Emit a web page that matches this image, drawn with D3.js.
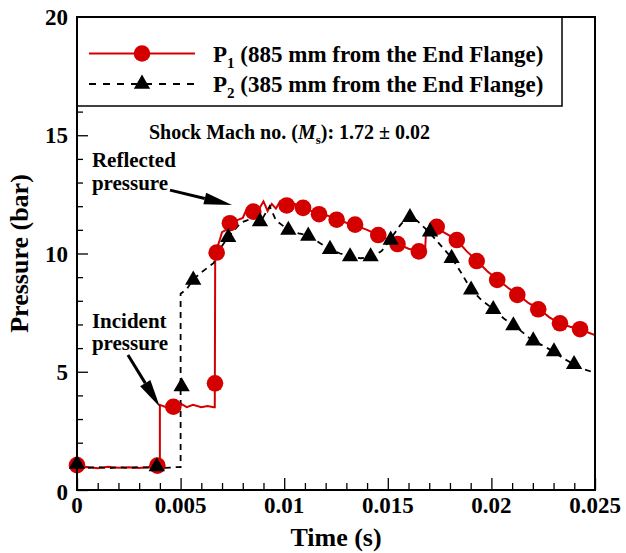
<!DOCTYPE html>
<html>
<head>
<meta charset="utf-8">
<script src="https://cdn.jsdelivr.net/npm/d3@7"></script>
<style>
  html, body { margin: 0; padding: 0; background: #fff; }
  svg { display: block; font-family: "Liberation Serif", "Times New Roman", serif; font-weight: bold; }
</style>
</head>
<body>
<svg id="chart" width="626" height="553"></svg>
<script>
// P1 trace (885 mm from end flange)
const p1Time = [0, 0.0005, 0.001, 0.0015, 0.002, 0.0025, 0.003, 0.0035, 0.0039, 0.004, 0.004,
  0.0043, 0.0047, 0.005, 0.0053, 0.0056, 0.006, 0.0063, 0.0066, 0.00665, 0.00667,
  0.0069, 0.007, 0.0072, 0.0074, 0.0077, 0.008, 0.0082, 0.0085, 0.0088, 0.009, 0.0092,
  0.0094, 0.0096, 0.0098, 0.0101, 0.0105, 0.0109, 0.0113, 0.0117, 0.0121, 0.0125, 0.013,
  0.0134, 0.014, 0.0145, 0.015, 0.0155, 0.016, 0.0165, 0.0168, 0.01685, 0.0172, 0.0175,
  0.018, 0.0183, 0.0188, 0.0193, 0.0198, 0.0203, 0.0208, 0.0213, 0.0218, 0.0223, 0.0228,
  0.0233, 0.0238, 0.0243, 0.0247, 0.025];
const p1Pressure = [0.95, 0.97, 0.92, 0.98, 0.94, 0.96, 0.93, 0.97, 0.95, 0.95, 3.6,
  3.5, 3.55, 3.65, 3.5, 3.6, 3.5, 3.55, 3.5, 3.5, 10.0,
  10.6, 10.9, 11.0, 11.3, 11.4, 11.5, 11.9, 11.8, 11.9, 12.2, 11.8,
  12.1, 11.9, 12.2, 12.05, 12.1, 11.95, 11.8, 11.65, 11.6, 11.45, 11.3,
  11.2, 11.0, 10.8, 10.6, 10.4, 10.2, 10.1, 10.15, 11.0, 11.2, 11.0,
  10.75, 10.6, 10.1, 9.7, 9.25, 8.9, 8.55, 8.25, 7.9, 7.65, 7.3,
  7.05, 6.9, 6.8, 6.65, 6.55];
const p1MarkTime = [0, 0.00388, 0.00465, 0.00666, 0.00674, 0.00738, 0.00851, 0.01012, 0.01091,
  0.01168, 0.01253, 0.01342, 0.01454, 0.01547, 0.0165, 0.01736, 0.01833, 0.01929, 0.02028,
  0.02125, 0.02226, 0.02331, 0.02428];
const p1MarkPressure = [1.05, 1.03, 3.52, 4.51, 10.04, 11.28, 11.77, 12.03, 11.93,
  11.66, 11.43, 11.22, 10.78, 10.4, 10.09, 11.13, 10.57, 9.68, 8.88,
  8.25, 7.64, 7.05, 6.8];

// P2 trace (385 mm from end flange)
const p2Time = [0, 0.0005, 0.001, 0.0015, 0.002, 0.0025, 0.003, 0.0035, 0.0039, 0.0045, 0.0049,
  0.005, 0.005, 0.0053, 0.0056, 0.006, 0.0063, 0.0066, 0.0069, 0.0073, 0.0076, 0.0079,
  0.0082, 0.0086, 0.0089, 0.0093, 0.0096, 0.0099, 0.0102, 0.0107, 0.0112, 0.0117, 0.0122,
  0.0127, 0.0132, 0.0137, 0.0142, 0.0147, 0.0151, 0.0156, 0.016, 0.0164, 0.017, 0.0175,
  0.0181, 0.0186, 0.019, 0.0195, 0.0201, 0.0206, 0.0211, 0.0216, 0.022, 0.0225, 0.023,
  0.0235, 0.024, 0.0245, 0.025];
const p2Pressure = [0.95, 0.93, 0.97, 0.92, 0.96, 0.93, 0.97, 0.94, 0.92, 0.95, 0.97,
  0.97, 8.3, 8.5, 8.9, 9.2, 9.4, 9.6, 10.2, 10.7, 11.0, 11.3,
  11.4, 11.5, 11.4, 12.0, 11.4, 11.2, 11.0, 10.85, 10.75, 10.45, 10.2,
  10.0, 9.87, 9.8, 9.85, 10.1, 10.57, 11.2, 11.6, 11.4, 10.9, 10.4,
  9.8, 9.1, 8.5, 8.05, 7.64, 7.25, 6.95, 6.6, 6.3, 6.1, 5.85,
  5.55, 5.31, 5.1, 4.95];
const p2MarkTime = [0, 0.00385, 0.00505, 0.00561, 0.0073, 0.00883, 0.0102, 0.01116, 0.01221,
  0.01318, 0.01417, 0.01514, 0.01607, 0.01704, 0.01808, 0.01902, 0.02009, 0.02106, 0.02202,
  0.02302, 0.02399];
const p2MarkPressure = [1.1, 0.99, 4.37, 8.88, 10.68, 11.35, 10.99, 10.74, 10.18,
  9.87, 9.87, 10.57, 11.53, 10.92, 9.8, 8.46, 7.64, 6.95, 6.31,
  5.85, 5.31];

const xTicks = [0, 0.005, 0.01, 0.015, 0.02, 0.025];
const xTickLabels = ["0", "0.005", "0.01", "0.015", "0.02", "0.025"];
const yTicks = [0, 5, 10, 15, 20];

const svg = d3.select("#chart");
const mLeft = 77, mRight = 595, mTop = 17, mBottom = 490;
const x = d3.scaleLinear().domain([0, 0.025]).range([mLeft, mRight]);
const y = d3.scaleLinear().domain([0, 20]).range([mBottom, mTop]);
const RED = "#d40000";

svg.append("rect").attr("width", 626).attr("height", 553).attr("fill", "#fff");

// ticks (inward, left and bottom only)
const xAxis = d3.axisBottom(x)
  .tickValues(d3.range(0, 26).map((i) => i * 0.001))
  .tickSize(-7).tickFormat("");
svg.append("g").attr("transform", `translate(0,${mBottom})`).call(xAxis)
  .call((g) => g.select(".domain").remove())
  .call((g) => g.selectAll("line").attr("stroke", "#000").attr("stroke-width", 1.3)
    .attr("y2", (d, i) => (i % 5 === 0 ? -12 : -7)));
const yAxis = d3.axisLeft(y)
  .tickValues(d3.range(0, 21))
  .tickSize(-6).tickFormat("");
svg.append("g").attr("transform", `translate(${mLeft},0)`).call(yAxis)
  .call((g) => g.select(".domain").remove())
  .call((g) => g.selectAll("line").attr("stroke", "#000").attr("stroke-width", 1.3)
    .attr("x2", (d, i) => (i % 5 === 0 ? 11 : 6)));

// tick labels
svg.append("g").selectAll("text").data(xTicks).join("text")
  .attr("x", (d) => x(d)).attr("y", mBottom + 23)
  .attr("text-anchor", "middle").attr("font-size", 23)
  .text((d, i) => xTickLabels[i]);
svg.append("g").selectAll("text").data(yTicks).join("text")
  .attr("x", mLeft - 9).attr("y", (d) => y(d) + 8 + (d === 0 ? 2 : 0))
  .attr("text-anchor", "end").attr("font-size", 23)
  .text((d) => d);

// axis titles
svg.append("text").attr("x", (mLeft + mRight) / 2).attr("y", 546)
  .attr("text-anchor", "middle").attr("font-size", 26).text("Time (s)");
svg.append("text").attr("transform", `translate(28,${(mTop + mBottom) / 2}) rotate(-90)`)
  .attr("text-anchor", "middle").attr("font-size", 26).text("Pressure (bar)");

// series
const line = d3.line().x((d) => x(d[0])).y((d) => y(d[1]));
const p1 = d3.zip(p1Time, p1Pressure);
const p2 = d3.zip(p2Time, p2Pressure);

svg.append("path").datum(p1).attr("d", line)
  .attr("fill", "none").attr("stroke", RED).attr("stroke-width", 2);
svg.append("path").datum(p2).attr("d", line)
  .attr("fill", "none").attr("stroke", "#000").attr("stroke-width", 1.8)
  .attr("stroke-dasharray", "6,5");

svg.append("g").selectAll("circle").data(d3.zip(p1MarkTime, p1MarkPressure)).join("circle")
  .attr("cx", (d) => x(d[0])).attr("cy", (d) => y(d[1])).attr("r", 8.3)
  .attr("fill", RED);

const tri = d3.symbol().type(d3.symbolTriangle).size(115);
svg.append("g").selectAll("path").data(d3.zip(p2MarkTime, p2MarkPressure)).join("path")
  .attr("transform", (d) => `translate(${x(d[0])},${y(d[1])})`)
  .attr("d", tri).attr("fill", "#000");

// annotations
function arrow(t0, v0, t1, v1) {
  const x0 = x(t0), y0 = y(v0), x1 = x(t1), y1 = y(v1);
  const len = Math.hypot(x1 - x0, y1 - y0);
  const ux = (x1 - x0) / len, uy = (y1 - y0) / len;
  const hl = 28, hw = 6;
  const bx = x1 - ux * hl, by = y1 - uy * hl;
  svg.append("line").attr("x1", x0).attr("y1", y0).attr("x2", bx).attr("y2", by)
    .attr("stroke", "#000").attr("stroke-width", 3);
  svg.append("path")
    .attr("d", `M${x1},${y1}L${bx - uy * hw},${by + ux * hw}L${bx + uy * hw},${by - ux * hw}Z`)
    .attr("fill", "#000");
}
const note = (t, v, s) => svg.append("text").attr("x", x(t)).attr("y", y(v))
  .attr("font-size", 21).text(s);
note(0.00072, 13.66, "Reflected");
note(0.00072, 12.68, "pressure");
arrow(0.00449, 12.68, 0.00748, 12.05);
note(0.00072, 6.85, "Incident");
note(0.00072, 5.92, "pressure");
arrow(0.00246, 5.71, 0.0040, 3.51);

svg.append("text").attr("x", 149).attr("y", 139).attr("font-size", 20)
  .call((t) => {
    t.append("tspan").text("Shock Mach no. (");
    t.append("tspan").attr("font-style", "italic").text("M");
    t.append("tspan").attr("font-size", 13).attr("dy", 5).text("s");
    t.append("tspan").attr("dy", -5).text("): 1.72 \u00b1 0.02");
  });

// legend
svg.append("rect").attr("x", mLeft).attr("y", mTop).attr("width", 562 - mLeft).attr("height", 106 - mTop)
  .attr("fill", "#fff").attr("stroke", "#000").attr("stroke-width", 1.5);
const legendRows = [
  { y: 53.5, sub: "1", text: " (885 mm from the End Flange)", color: RED, dash: null, mark: "circle" },
  { y: 84, sub: "2", text: " (385 mm from the End Flange)", color: "#000", dash: "7,7", mark: "tri" },
];
legendRows.forEach((r) => {
  svg.append("line").attr("x1", 89).attr("x2", 195).attr("y1", r.y).attr("y2", r.y)
    .attr("stroke", r.color).attr("stroke-width", 2).attr("stroke-dasharray", r.dash);
  if (r.mark === "circle") {
    svg.append("circle").attr("cx", 142).attr("cy", r.y).attr("r", 8.3).attr("fill", r.color);
  } else {
    svg.append("path").attr("transform", `translate(142,${r.y})`).attr("d", tri).attr("fill", r.color);
  }
  const t = svg.append("text").attr("x", 213).attr("y", r.y + 8).attr("font-size", 23);
  t.append("tspan").text("P");
  t.append("tspan").attr("font-size", 15).attr("dy", 6).text(r.sub);
  t.append("tspan").attr("dy", -6).text(r.text);
});

// frame
svg.append("rect").attr("x", mLeft).attr("y", mTop).attr("width", mRight - mLeft).attr("height", mBottom - mTop)
  .attr("fill", "none").attr("stroke", "#000").attr("stroke-width", 2);
</script>
</body>
</html>
